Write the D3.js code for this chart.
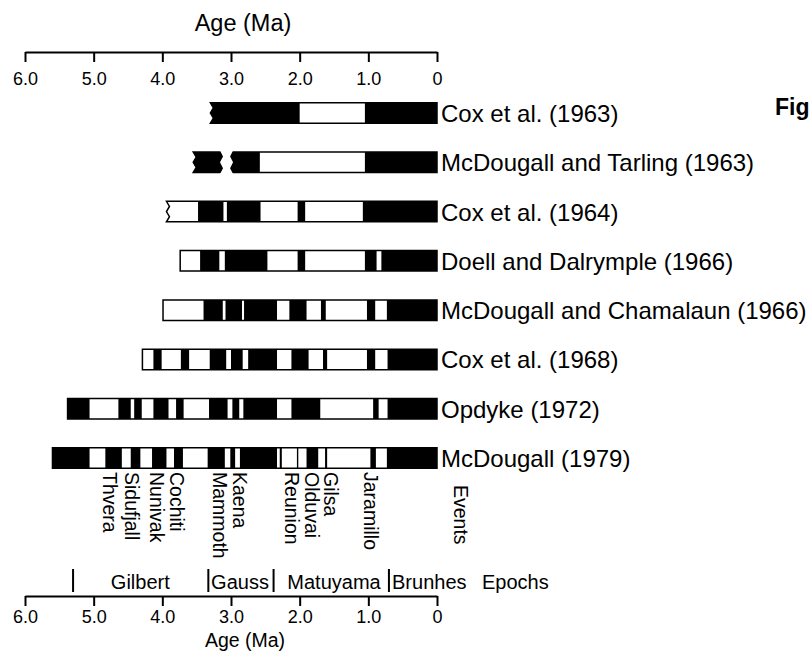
<!doctype html>
<html lang="en">
  <head>
    <meta charset="utf-8">
    <title>Polarity time scales</title>
    <style>
      body { margin: 0; background: #fff; }
      text { font-family: Arial, "Liberation Sans", Helvetica, sans-serif; fill: #000; }
    </style>
  </head>
  <body>
    <script src="https://d3js.org/d3.v7.min.js"></script>
    <script>
      // published time scales, youngest at the top
      var records = [
        'Cox et al. (1963)',
        'McDougall and Tarling (1963)',
        'Cox et al. (1964)',
        'Doell and Dalrymple (1966)',
        'McDougall and Chamalaun (1966)',
        'Cox et al. (1968)',
        'Opdyke (1972)',
        'McDougall (1979)'
      ];
      // oldest age covered by each record (Ma)
      var startAges = [3.30, 3.55, 3.94, 3.74, 3.99, 4.29, 5.38, 5.60];
      // records whose old end is drawn broken
      var brokenEnds = [true, true, true, false, false, false, false, false];
      // normal polarity intervals [young, old]; the rest is reversed
      var normals = [
        [[0, 1.05], [2.00, 3.30]],
        [[0, 1.05], [2.58, 3.55]],
        [[0, 1.08], [1.92, 2.03], [2.57, 3.06], [3.11, 3.48]],
        [[0, 0.81], [0.88, 1.05], [1.92, 2.03], [2.47, 3.09], [3.17, 3.45]],
        [[0, 0.73], [0.90, 1.02], [1.62, 1.69], [1.90, 2.15], [2.33, 2.81], [2.84, 3.08], [3.12, 3.40]],
        [[0, 0.72], [0.90, 1.02], [1.60, 1.66], [1.87, 2.12], [2.33, 2.75], [2.83, 3.00], [3.07, 3.31],
         [3.61, 3.73], [4.01, 4.13]],
        [[0, 0.72], [0.85, 0.93], [1.70, 2.12], [2.33, 2.82], [2.88, 2.98], [3.05, 3.32], [3.69, 3.80],
         [3.91, 4.13], [4.30, 4.41], [4.46, 4.64], [5.06, 5.38]],
        [[0, 0.73], [0.89, 0.97], [1.60, 1.63], [1.73, 1.90], [2.02, 2.04], [2.26, 2.29], [2.33, 2.87],
         [2.94, 3.01], [3.09, 3.34], [3.70, 3.83], [3.94, 4.15], [4.32, 4.46], [4.59, 4.83], [5.06, 5.60]]
      ];
      // breaks in the record (no data)
      var gaps = [[], [[2.97, 3.16]], [], [], [], [], [], []];

      var eventNames = ['Thvera', 'Sidufjall', 'Nunivak', 'Cochiti', 'Mammoth', 'Kaena',
                        'Reunion', 'Olduvai', 'Gilsa', 'Jaramillo'];
      var eventAges = [4.76, 4.44, 4.08, 3.79, 3.16, 2.87, 2.11, 1.82, 1.54, 0.96];

      var epochNames = ['Gilbert', 'Gauss', 'Matuyama', 'Brunhes'];
      var epochLabelAges = [4.75, 3.29, 2.18, 0.655];
      var epochBounds = [5.30, 3.33, 2.38, 0.70];

      var ageTicks = [6, 5, 4, 3, 2, 1, 0];

      var width = 810, height = 660;
      var svg = d3.select('body').append('svg')
          .attr('width', width)
          .attr('height', height);

      var x = d3.scaleLinear().domain([6, 0]).range([25, 437]);
      var y = d3.scalePoint().domain(records).range([113, 458]);
      var barH = 20.5;

      function fmt(d) { return d === 0 ? '0' : d.toFixed(1); }

      function styleAxis(g, size) {
        g.selectAll('path, line').attr('stroke', '#000').attr('stroke-width', 2);
        g.selectAll('text').attr('font-size', size).attr('font-family', null);
      }

      // top axis
      svg.append('g')
          .attr('transform', 'translate(0,52)')
          .call(d3.axisBottom(x).tickValues(ageTicks).tickFormat(fmt)
            .tickSize(10).tickSizeOuter(0).tickPadding(10))
          .call(styleAxis, 18);
      svg.append('text')
          .attr('x', 243).attr('y', 31)
          .attr('text-anchor', 'middle')
          .attr('font-size', 23.5)
          .text('Age (Ma)');

      // bottom axis
      svg.append('g')
          .attr('transform', 'translate(0,596)')
          .call(d3.axisBottom(x).tickValues(ageTicks).tickFormat(fmt)
            .tickSize(10).tickSizeOuter(0).tickPadding(4))
          .call(styleAxis, 18);
      svg.append('text')
          .attr('x', 245).attr('y', 647)
          .attr('text-anchor', 'middle')
          .attr('font-size', 19.5)
          .text('Age (Ma)');

      function outline(i) {
        var x0 = x(startAges[i]), x1 = x(0);
        var t = y(records[i]) - barH / 2, b = t + barH;
        var p = 'M' + x0 + ',' + t + 'L' + x1 + ',' + t + 'L' + x1 + ',' + b + 'L' + x0 + ',' + b;
        if (brokenEnds[i]) {
          for (var k = 1; k <= 4; k++) {
            p += 'L' + (x0 + (k % 2 ? 3 : 0)) + ',' + (b - k * barH / 4);
          }
        }
        return p + 'Z';
      }

      function gapPath(i, g) {
        var xl = x(g[1]), xr = x(g[0]);
        var t = y(records[i]) - barH / 2 - 1.5, b = t + barH + 3;
        var h = b - t;
        var p = 'M' + xl + ',' + t;
        for (var k = 1; k <= 4; k++) p += 'L' + (xl + (k % 2 ? 3 : 0)) + ',' + (t + k * h / 4);
        p += 'L' + xr + ',' + b;
        for (k = 1; k <= 4; k++) p += 'L' + (xr - (k % 2 ? 3 : 0)) + ',' + (b - k * h / 4);
        return p + 'Z';
      }

      var defs = svg.append('defs');
      records.forEach(function(r, i) {
        defs.append('clipPath').attr('id', 'clip' + i)
          .append('path').attr('d', outline(i));
      });

      var rows = svg.selectAll('.row')
        .data(records)
        .enter().append('g')
          .attr('class', 'row');

      rows.append('path')
          .attr('d', function(d, i) { return outline(i); })
          .attr('fill', '#fff');

      rows.each(function(d, i) {
        var t = y(d) - barH / 2;
        d3.select(this).append('g')
            .attr('clip-path', 'url(#clip' + i + ')')
          .selectAll('rect')
          .data(normals[i])
          .enter().append('rect')
            .attr('x', function(n) { return x(n[1]); })
            .attr('width', function(n) { return x(n[0]) - x(n[1]); })
            .attr('y', t)
            .attr('height', barH)
            .attr('fill', '#000');
      });

      rows.append('path')
          .attr('d', function(d, i) { return outline(i); })
          .attr('fill', 'none')
          .attr('stroke', '#000')
          .attr('stroke-width', 1.5);

      rows.each(function(d, i) {
        d3.select(this).selectAll('.gap')
          .data(gaps[i])
          .enter().append('path')
            .attr('class', 'gap')
            .attr('d', function(g) { return gapPath(i, g); })
            .attr('fill', '#fff');
      });

      rows.append('text')
          .attr('x', x(0) + 4)
          .attr('y', function(d) { return y(d) + 9; })
          .attr('font-size', 24)
          .text(function(d) { return d; });

      svg.append('text')
          .attr('x', 775).attr('y', 115)
          .attr('font-size', 23)
          .attr('font-weight', 'bold')
          .text('Fig');

      // event names, rotated
      svg.selectAll('.event')
        .data(eventNames)
        .enter().append('text')
          .attr('class', 'event')
          .attr('transform', function(d, i) { return 'translate(' + x(eventAges[i]) + ',472) rotate(90)'; })
          .attr('dy', '0.35em')
          .attr('font-size', 19.5)
          .text(function(d) { return d; });
      svg.append('text')
          .attr('transform', 'translate(' + x(-0.35) + ',485) rotate(90)')
          .attr('dy', '0.35em')
          .attr('font-size', 19.5)
          .text('Events');

      // epochs
      svg.selectAll('.bound')
        .data(epochBounds)
        .enter().append('line')
          .attr('x1', function(d) { return x(d); })
          .attr('x2', function(d) { return x(d); })
          .attr('y1', 569).attr('y2', 592)
          .attr('stroke', '#000')
          .attr('stroke-width', 2);
      svg.selectAll('.epoch')
        .data(epochNames)
        .enter().append('text')
          .attr('x', function(d, i) { return x(epochLabelAges[i]); })
          .attr('y', 589)
          .attr('font-size', 20)
          .text(function(d) { return d; });
      svg.append('text')
          .attr('x', x(-0.655)).attr('y', 589)
          .attr('font-size', 20)
          .text('Epochs');
    </script>
  </body>
</html>
